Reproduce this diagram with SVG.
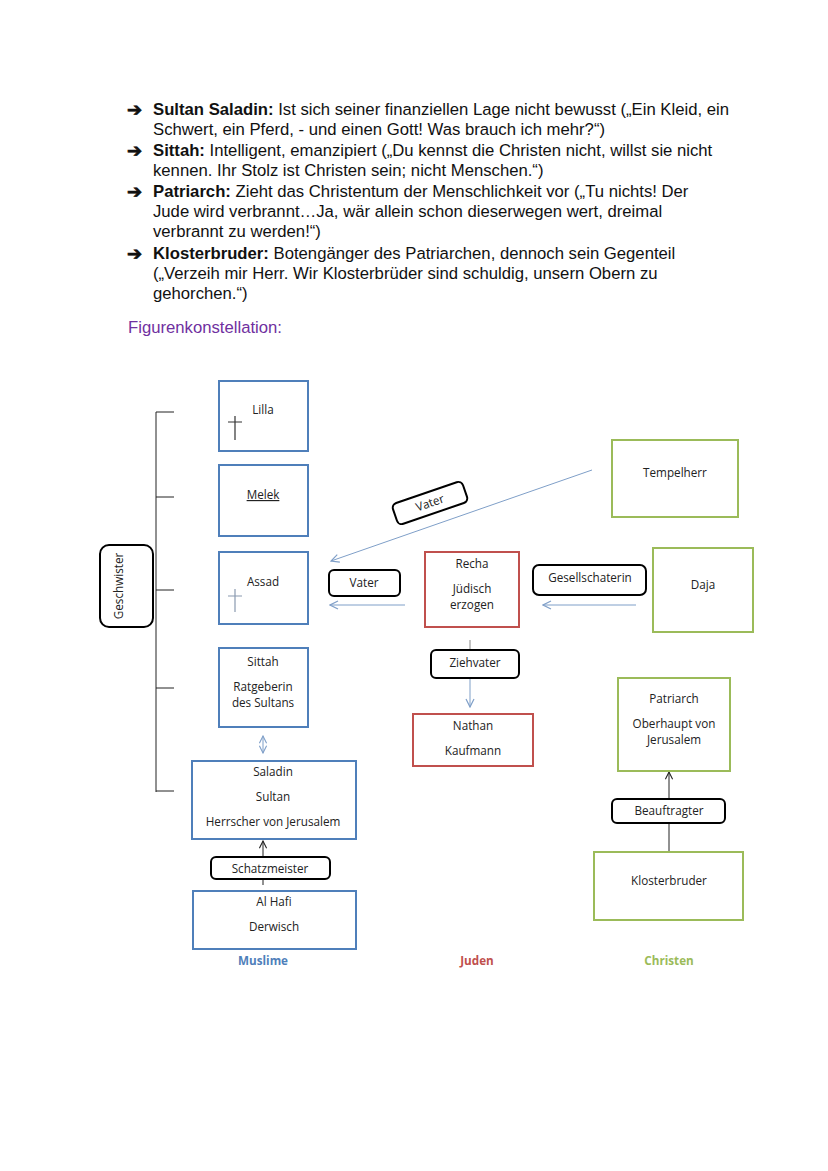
<svg xmlns="http://www.w3.org/2000/svg" width="828" height="1171" viewBox="0 0 828 1171">
<defs>
<style>
.t{font-family:"Liberation Sans",Arial,sans-serif;font-size:16.7px;fill:#111}
.ar{font-family:"DejaVu Sans",sans-serif;font-size:18px;font-weight:bold;fill:#111;stroke:#111;stroke-width:0.8}
.b{font-weight:bold}
.d{font-family:"Open Sans","DejaVu Sans",sans-serif;font-size:11.7px;fill:#222;text-anchor:middle}
.blue{fill:none;stroke:#4F7FBA;stroke-width:2}
.red{fill:none;stroke:#C0504D;stroke-width:2}
.green{fill:none;stroke:#9BBB59;stroke-width:2}
.lbl{fill:#fff;stroke:#000;stroke-width:2}
.ln{fill:none;stroke:#7F9FC8;stroke-width:1}
.bk{fill:none;stroke:#222;stroke-width:1}
</style>
<marker id="ab" viewBox="0 0 10 10" refX="9" refY="5" markerWidth="10" markerHeight="10" markerUnits="userSpaceOnUse" orient="auto"><path d="M1,1 L9,5 L1,9" fill="none" stroke="#7F9FC8" stroke-width="1.2"/></marker>
<marker id="ak" viewBox="0 0 10 10" refX="9" refY="5" markerWidth="9" markerHeight="9" markerUnits="userSpaceOnUse" orient="auto"><path d="M1,1 L9,5 L1,9" fill="none" stroke="#222" stroke-width="1.2"/></marker>
<marker id="as" viewBox="0 0 10 10" refX="9" refY="5" markerWidth="9" markerHeight="9" markerUnits="userSpaceOnUse" orient="auto-start-reverse"><path d="M1,1 L9,5 L1,9" fill="none" stroke="#7F9FC8" stroke-width="1.2"/></marker>
</defs>
<rect width="828" height="1171" fill="#fff"/>
<g id="text">
<text class="ar" x="127" y="116">➔</text>
<text class="t" x="153" y="115"><tspan class="b">Sultan Saladin:</tspan> Ist sich seiner finanziellen Lage nicht bewusst („Ein Kleid, ein</text>
<text class="t" x="153" y="135">Schwert, ein Pferd, - und einen Gott! Was brauch ich mehr?“)</text>
<text class="ar" x="127" y="157">➔</text>
<text class="t" x="153" y="156"><tspan class="b">Sittah:</tspan> Intelligent, emanzipiert („Du kennst die Christen nicht, willst sie nicht</text>
<text class="t" x="153" y="176">kennen. Ihr Stolz ist Christen sein; nicht Menschen.“)</text>
<text class="ar" x="127" y="198">➔</text>
<text class="t" x="153" y="197"><tspan class="b">Patriarch:</tspan> Zieht das Christentum der Menschlichkeit vor („Tu nichts! Der</text>
<text class="t" x="153" y="217">Jude wird verbrannt…Ja, wär allein schon dieserwegen wert, dreimal</text>
<text class="t" x="153" y="237">verbrannt zu werden!“)</text>
<text class="ar" x="127" y="260">➔</text>
<text class="t" x="153" y="259"><tspan class="b">Klosterbruder:</tspan> Botengänger des Patriarchen, dennoch sein Gegenteil</text>
<text class="t" x="153" y="279">(„Verzeih mir Herr. Wir Klosterbrüder sind schuldig, unsern Obern zu</text>
<text class="t" x="153" y="299">gehorchen.“)</text>
<text class="t" x="128" y="333" style="fill:#7030A0">Figurenkonstellation:</text>
</g>
<g id="connectors">
<path class="bk" d="M156,412 V792 M156,412 H174 M156,497 H174 M156,590 H174 M156,688 H174 M156,791 H174" stroke="#444"/>
<line class="ln" x1="592" y1="470" x2="331" y2="561" marker-end="url(#ab)"/>
<line class="ln" x1="405" y1="605" x2="330" y2="605" marker-end="url(#ab)"/>
<line class="ln" x1="636" y1="605" x2="543" y2="605" marker-end="url(#ab)"/>
<line class="ln" x1="470" y1="640" x2="470" y2="650" style="stroke:#888"/>
<line class="ln" x1="470" y1="679" x2="470" y2="707" marker-end="url(#ab)"/>
<line class="ln" x1="263" y1="736" x2="263" y2="753" marker-start="url(#as)" marker-end="url(#as)"/>
<line class="bk" x1="263" y1="857" x2="263" y2="841" marker-end="url(#ak)"/>
<line class="bk" x1="263" y1="879" x2="263" y2="885"/>
<line class="bk" x1="669" y1="799" x2="669" y2="772" marker-end="url(#ak)"/>
<line class="bk" x1="669" y1="823" x2="669" y2="852"/>
</g>
<g id="geschwister">
<rect class="lbl" x="100" y="545" width="53" height="82" rx="9"/>
<text class="d" transform="translate(123,586) rotate(-90)">Geschwister</text>
</g>
<g id="lilla">
<rect class="blue" x="219" y="381" width="89" height="70"/>
<text class="d" x="263" y="414">Lilla</text>
<path d="M235,416 V440 M228,422 H242" stroke="#333" stroke-width="1.2" fill="none"/>
</g>
<g id="melek">
<rect class="blue" x="219" y="465" width="89" height="71"/>
<text class="d" x="263" y="499" text-decoration="underline">Melek</text>
</g>
<g id="assad">
<rect class="blue" x="219" y="552" width="89" height="72"/>
<text class="d" x="263" y="586">Assad</text>
<path d="M235,589 V612 M228,596 H242" stroke="#8A9AB0" stroke-width="1.2" fill="none"/>
</g>
<g id="sittah">
<rect class="blue" x="219" y="648" width="89" height="79"/>
<text class="d" x="263" y="666">Sittah</text>
<text class="d" x="263" y="691">Ratgeberin</text>
<text class="d" x="263" y="707">des Sultans</text>
</g>
<g id="saladin">
<rect class="blue" x="192" y="761" width="164" height="78"/>
<text class="d" x="273" y="776">Saladin</text>
<text class="d" x="273" y="801">Sultan</text>
<text class="d" x="273" y="826">Herrscher von Jerusalem</text>
</g>
<g id="schatzmeister">
<rect class="lbl" x="211" y="857" width="119" height="22" rx="5"/>
<text class="d" x="270" y="873">Schatzmeister</text>
</g>
<g id="alhafi">
<rect class="blue" x="193" y="891" width="163" height="58"/>
<text class="d" x="274" y="906">Al Hafi</text>
<text class="d" x="274" y="931">Derwisch</text>
</g>
<text class="d" x="263" y="965" style="font-weight:bold;fill:#4F7FBA">Muslime</text>
<g id="vater1">
<g transform="translate(430,503) rotate(-19)">
<rect class="lbl" x="-37" y="-11" width="74" height="22" rx="5"/>
<text class="d" x="0" y="4">Vater</text>
</g>
</g>
<g id="tempelherr">
<rect class="green" x="612" y="440" width="126" height="77"/>
<text class="d" x="675" y="477">Tempelherr</text>
</g>
<g id="vater2">
<rect class="lbl" x="329" y="570" width="71" height="26" rx="5"/>
<text class="d" x="364" y="587">Vater</text>
</g>
<g id="recha">
<rect class="red" x="425" y="552" width="94" height="75"/>
<text class="d" x="472" y="568">Recha</text>
<text class="d" x="472" y="593">Jüdisch</text>
<text class="d" x="472" y="609">erzogen</text>
</g>
<g id="gesellschaterin">
<rect class="lbl" x="533" y="565" width="113" height="30" rx="6"/>
<text class="d" x="590" y="582">Gesellschaterin</text>
</g>
<g id="daja">
<rect class="green" x="653" y="548" width="100" height="84"/>
<text class="d" x="703" y="589">Daja</text>
</g>
<g id="ziehvater">
<rect class="lbl" x="431" y="650" width="88" height="28" rx="5"/>
<text class="d" x="475" y="667">Ziehvater</text>
</g>
<g id="nathan">
<rect class="red" x="413" y="714" width="120" height="52"/>
<text class="d" x="473" y="730">Nathan</text>
<text class="d" x="473" y="755">Kaufmann</text>
</g>
<text class="d" x="477" y="965" style="font-weight:bold;fill:#C0504D">Juden</text>
<g id="patriarch">
<rect class="green" x="618" y="678" width="112" height="93"/>
<text class="d" x="674" y="703">Patriarch</text>
<text class="d" x="674" y="728">Oberhaupt von</text>
<text class="d" x="674" y="744">Jerusalem</text>
</g>
<g id="beauftragter">
<rect class="lbl" x="612" y="799" width="113" height="24" rx="5"/>
<text class="d" x="669" y="815">Beauftragter</text>
</g>
<g id="klosterbruder">
<rect class="green" x="594" y="852" width="149" height="68"/>
<text class="d" x="669" y="885">Klosterbruder</text>
</g>
<text class="d" x="669" y="965" style="font-weight:bold;fill:#9BBB59">Christen</text>
</svg>
